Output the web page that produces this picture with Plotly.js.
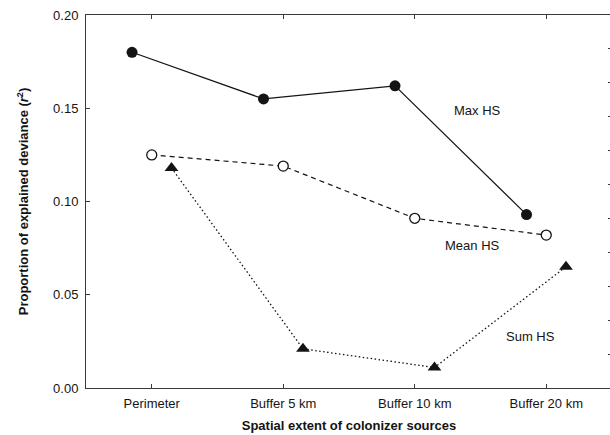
<!DOCTYPE html>
<html>
<head>
<meta charset="utf-8">
<script src="https://cdn.plot.ly/plotly-2.35.2.min.js"></script>
<style>
html,body{margin:0;padding:0;overflow:hidden;background:#fff;}
#chart{width:614px;height:435px;}
</style>
</head>
<body>
<div id="chart"></div>
<script>
var categories = ["Perimeter", "Buffer 5 km", "Buffer 10 km", "Buffer 20 km"];
var maxHS  = [0.180, 0.155, 0.162, 0.093];
var meanHS = [0.125, 0.119, 0.091, 0.082];
var sumHS  = [0.118, 0.021, 0.011, 0.065];
var yTickVals = [0, 0.05, 0.10, 0.15, 0.20];
var yTickText = ["0.00", "0.05", "0.10", "0.15", "0.20"];
var rightTickVals = [1, 2, 3, 4, 5, 6, 7, 8, 9, 10];

var ink = "#141414";
var axisCol = "#3a3a3a";
var fontFam = "Liberation Sans, Arial, Helvetica, sans-serif";

var traces = [
  {x: categories, y: maxHS, type: "scatter", mode: "lines+markers", name: "Max HS",
   line: {color: ink, width: 1.2, dash: "solid"},
   marker: {symbol: "circle", size: 11, color: ink}},
  {x: categories, y: meanHS, type: "scatter", mode: "lines+markers", name: "Mean HS",
   line: {color: ink, width: 1.2, dash: "5px,4px"},
   marker: {symbol: "circle", size: 10, color: "#ffffff", line: {color: ink, width: 1.3}}},
  {x: categories, y: sumHS, type: "scatter", mode: "lines+markers", name: "Sum HS",
   line: {color: ink, width: 1.3, dash: "1.5px,2.5px"},
   marker: {symbol: "triangle-up", size: 12, color: ink}},
  {x: [0], y: [-1], type: "scatter", mode: "markers", yaxis: "y2", showlegend: false, hoverinfo: "skip", marker: {opacity: 0}}
];

var layout = {
  width: 614, height: 435, autosize: false,
  margin: {l: 86, r: 2, t: 15, b: 47},
  paper_bgcolor: "#ffffff", plot_bgcolor: "#ffffff",
  showlegend: false,
  scattermode: "group", scattergap: 0.55,
  font: {family: fontFam, size: 13, color: ink},
  xaxis: {
    type: "category", range: [-0.5, 3.5],
    showline: true, linecolor: axisCol, linewidth: 1, mirror: "ticks",
    ticks: "inside", ticklen: 4, tickcolor: axisCol, showgrid: false, zeroline: false,
    tickfont: {size: 13, color: ink}, ticklabelstandoff: 3,
    title: {text: "<b>Spatial extent of colonizer sources</b>", font: {size: 13, color: ink}, standoff: 11}
  },
  yaxis: {
    range: [0, 0.20], tickvals: yTickVals, ticktext: yTickText,
    showline: true, linecolor: axisCol, linewidth: 1, mirror: true,
    ticks: "inside", ticklen: 4, tickcolor: axisCol, showgrid: false, zeroline: false,
    tickfont: {size: 13, color: ink}, ticklabelstandoff: 4,
    title: {text: "<b>Proportion of explained deviance (<i>r</i><sup>2</sup>)</b>", font: {size: 13, color: ink}, standoff: 21}
  },
  yaxis2: {
    overlaying: "y", side: "right", range: [0, 11], tickvals: rightTickVals,
    showticklabels: false, ticks: "inside", ticklen: 4, tickcolor: axisCol,
    showline: false, showgrid: false, zeroline: false
  },
  annotations: [
    {text: "Max HS", xref: "paper", yref: "paper", x: 0.745, y: 0.745, xanchor: "center", yanchor: "middle", showarrow: false, font: {size: 13, color: ink}},
    {text: "Mean HS", xref: "paper", yref: "paper", x: 0.734, y: 0.381, xanchor: "center", yanchor: "middle", showarrow: false, font: {size: 13, color: ink}},
    {text: "Sum HS", xref: "paper", yref: "paper", x: 0.846, y: 0.137, xanchor: "center", yanchor: "middle", showarrow: false, font: {size: 13, color: ink}}
  ]
};

Plotly.newPlot("chart", traces, layout, {displayModeBar: false, staticPlot: true});
</script>
</body>
</html>
